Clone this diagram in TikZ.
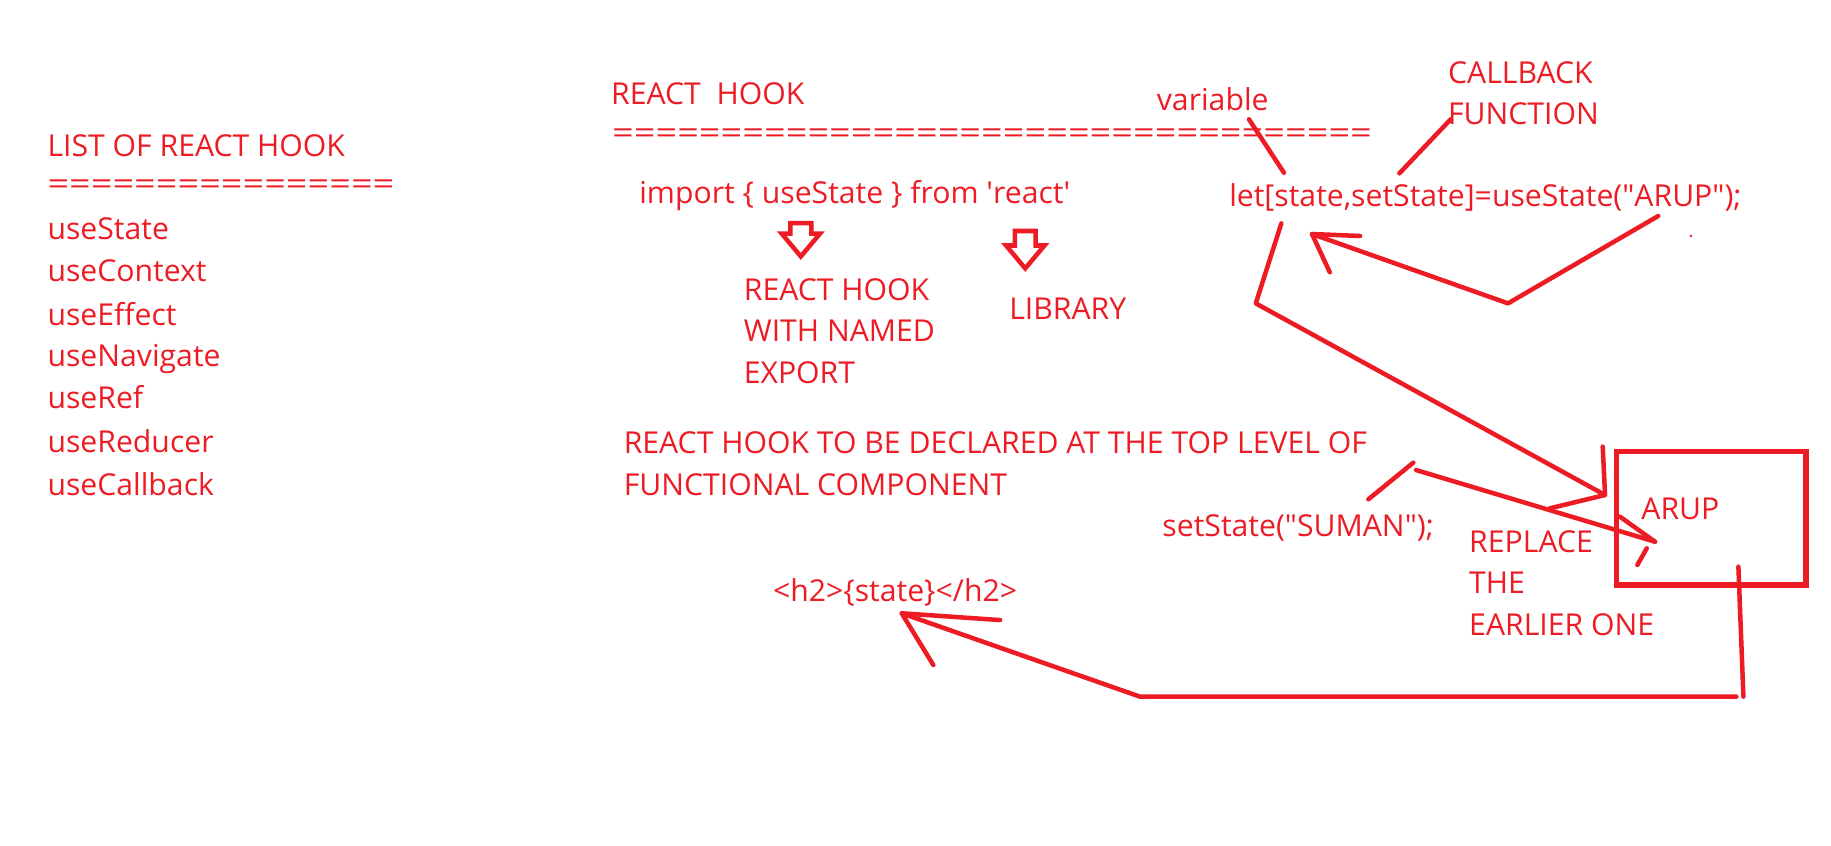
\documentclass[tikz,border=0pt]{standalone}
\usepackage{fontspec}
\setmainfont{Open Sans}
\usetikzlibrary{shapes.arrows}
\definecolor{paintred}{RGB}{237,28,36}

\begin{document}
\begin{tikzpicture}[
    x=0.01cm, y=-0.01cm,
    note/.style={anchor=base west, inner sep=0pt, align=left, text=paintred, font=\fontsize{7.35}{10.1}\selectfont},
    eqrule/.style={anchor=west, inner sep=0pt, text=paintred, font=\fontsize{7.35}{10.1}\selectfont},
    hollow/.style={single arrow, draw=paintred, line width=1.1pt, shape border rotate=270, inner sep=0.07cm, minimum width=0.29cm, single arrow head extend=0.075cm, single arrow tip angle=80},
    valuebox/.style={rectangle, draw=paintred, line width=1.3pt, minimum width=1.62cm, minimum height=1.14cm},
    line/.style={draw=paintred, line width=1.1pt, line cap=round, line join=round}
]
    \useasboundingbox (0,0) rectangle (1568,724);

    % List of hooks
    \node[note] (listtitle) at (40,134.2) {LIST OF REACT HOOK};
    \node[eqrule] (listrule) at (40,160.4) {\resizebox{2.967cm}{\height}{================}};
    \node[note] (usestate) at (40,205.5) {useState};
    \node[note] (usecontext) at (40,241) {useContext};
    \node[note] (useeffect) at (40,278.5) {useEffect};
    \node[note] (usenavigate) at (40,314) {useNavigate};
    \node[note] (useref) at (40,350) {useRef};
    \node[note] (usereducer) at (40,387.7) {useReducer};
    \node[note] (usecallback) at (40,424) {useCallback};

    % Hook explanation (base of a multi-line note = its last line)
    \node[note] (hooktitle) at (522.7,89.9) {REACT\ \ HOOK};
    \node[eqrule] (hookrule) at (523.5,117) {\resizebox{6.50cm}{\height}{===================================}};
    \node[note] (import) at (546.8,174.1) {import \{ useState \} from \textquotesingle react\textquotesingle};
    \node[hollow, minimum height=0.27cm] (downnamed) at (685.8,200) {};
    \node[hollow, minimum height=0.32cm] (downlib) at (878,208.5) {};
    \node[note] (namedexport) at (636.3,328) {REACT HOOK\\WITH NAMED\\EXPORT};
    \node[note] (library) at (863.6,274) {LIBRARY};
    \node[note] (toplevel) at (533.5,423.9) {REACT HOOK TO BE DECLARED AT THE TOP LEVEL OF\\FUNCTIONAL COMPONENT};
    \node[note] (h2) at (661.3,515.3) {<h2>\{state\}</h2>};

    % State declaration
    \node[note] (variable) at (990,94.2) {variable};
    \node[note] (callback) at (1239.4,107) {CALLBACK\\FUNCTION};
    \node[note] (letline) at (1052,177) {let[state,setState]=useState(\textquotedbl ARUP\textquotedbl );};
    \node[note] (setsuman) at (994.8,459.6) {setState(\textquotedbl SUMAN\textquotedbl );};
    \node[note] (replace) at (1257.5,543.8) {REPLACE\\THE\\EARLIER ONE};
    \node[valuebox] (arupbox) at (1465.5,443.9) {};
    \node[note] (arup) at (1405,444.7) {ARUP};

    % Stroke ends
    \coordinate (varA) at (1069.6,102.2);
    \coordinate (varB) at (1099.5,147.9);
    \coordinate (cbA) at (1198.4,148.4);
    \coordinate (cbB) at (1242.3,102.2);
    \coordinate (arA) at (1420,185);
    \coordinate (arBend) at (1291.4,259.8);
    \coordinate (arTip) at (1123.6,200.4);
    \coordinate (arHeadA) at (1164.7,202.1);
    \coordinate (arHeadB) at (1138.8,233.2);
    \coordinate (stA) at (1097.3,191.3);
    \coordinate (stBend) at (1075.4,259.8);
    \coordinate (stTip) at (1374.5,423.9);
    \coordinate (stHeadA) at (1372.5,382.5);
    \coordinate (stHeadB) at (1327.3,435.3);
    \coordinate (suA) at (1171.8,427.6);
    \coordinate (suB) at (1210.3,396.2);
    \coordinate (suC) at (1212.6,402.5);
    \coordinate (suTip) at (1417.3,463.9);
    \coordinate (suHeadA) at (1387.3,442.5);
    \coordinate (suHeadB) at (1402.2,483.8);
    \coordinate (suHeadC) at (1410.2,469.6);
    \coordinate (bxA) at (1488.7,485.3);
    \coordinate (bxB) at (1493,596.6);
    \coordinate (bxC) at (1487,596.6);
    \coordinate (bxD) at (976.3,596.6);
    \coordinate (h2Tip) at (772.2,525.2);
    \coordinate (h2HeadA) at (856.4,531);
    \coordinate (h2HeadB) at (799.3,569.5);

    % Connectors
    \draw[line] (varA) -- (varB);
    \draw[line] (cbA) -- (cbB);
    \draw[line] (arA) -- (arBend) -- (arTip);
    \draw[line] (arHeadA) -- (arTip) -- (arHeadB);
    \draw[line] (stA) -- (stBend) -- (stTip);
    \draw[line] (stHeadA) -- (stTip) -- (stHeadB);
    \draw[line] (suA) -- (suB);
    \draw[line] (suC) -- (suTip);
    \draw[line] (suHeadA) -- (suTip);
    \draw[line] (suHeadB) -- (suHeadC);
    \draw[line] (bxA) -- (bxB);
    \draw[line] (bxC) -- (bxD) -- (h2Tip);
    \draw[line] (h2HeadA) -- (h2Tip) -- (h2HeadB);
    \fill[paintred] (1448,202) circle (1.2);
\end{tikzpicture}
\end{document}
